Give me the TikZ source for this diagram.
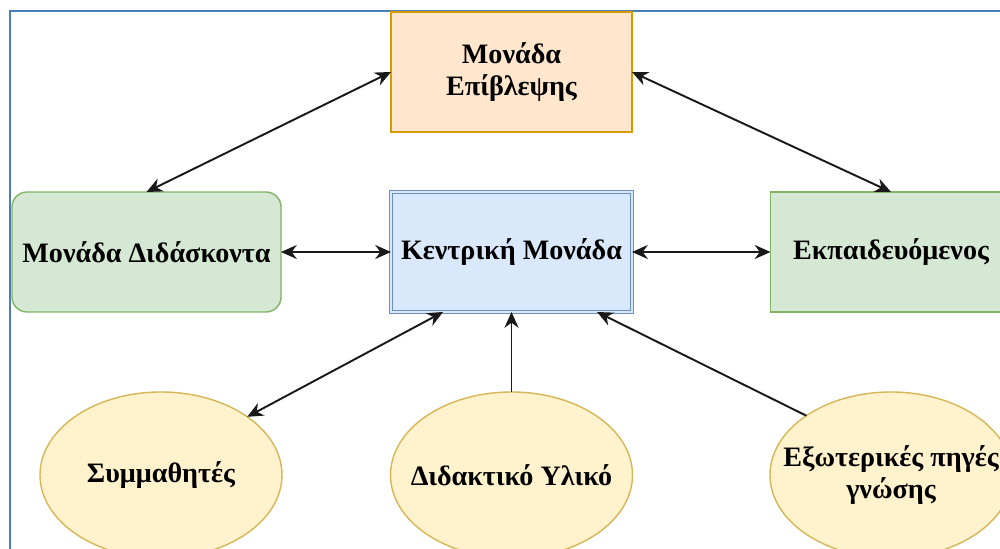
\documentclass[tikz,border=0pt]{standalone}
\usepackage{fontspec}
\setmainfont{Liberation Serif}
\usepackage{tikz}
\usetikzlibrary{arrows.meta,positioning,shapes.geometric,calc}
\usepackage{xcolor}

\definecolor{orangefill}{HTML}{FFE6CC}
\definecolor{orangeline}{HTML}{D79B00}
\definecolor{greenfill}{HTML}{D5E8D4}
\definecolor{greenline}{HTML}{82B366}
\definecolor{bluefill}{HTML}{DAE8FC}
\definecolor{blueline}{HTML}{6C8EBF}
\definecolor{yellowfill}{HTML}{FFF2CC}
\definecolor{yellowline}{HTML}{D6B656}
\definecolor{framecol}{HTML}{4A7EBB}

\tikzset{
    unitbox/.style={draw, line width=0.8pt, align=center, inner sep=0pt, outer sep=0pt,
        minimum width=4.82cm, minimum height=2.4cm,
        font=\fontsize{16}{18}\selectfont\bfseries},
    sourceell/.style={ellipse, draw=yellowline, fill=yellowfill, line width=0.8pt,
        inner sep=0pt, outer sep=0pt, minimum width=4.84cm, minimum height=3.32cm},
    sourcetext/.style={align=center, inner sep=0pt, font=\fontsize{16}{18}\selectfont\bfseries},
    link/.style={line width=1.1pt, black!90, {Stealth[length=9pt,width=8pt]}-{Stealth[length=9pt,width=8pt]}},
    feed/.style={line width=1.1pt, black!90, -{Stealth[length=9pt,width=8pt]}}
}

\begin{document}
\begin{tikzpicture}
        \useasboundingbox (0,0) rectangle (20,10.98);
        % Πλαίσιο εικόνας
        \draw[framecol, line width=1.2pt] (0.2,-1) -- (0.2,10.76) -- (21,10.76);
        % Μονάδα Επίβλεψης (πάνω)
        \node[unitbox, draw=orangeline, fill=orangefill] (supervision) at (10.23,9.54) {Μονάδα\\Επίβλεψης};
        % Κεντρική Μονάδα (διπλό περίγραμμα)
        \node[unitbox, draw=blueline, fill=bluefill, line width=0.6pt, double=bluefill, double distance=1.6pt] (central) at (10.23,5.94) {Κεντρική Μονάδα};
        % Μονάδα Διδάσκοντα (αριστερά)
        \node[unitbox, draw=greenline, fill=greenfill, rounded corners=0.3cm, minimum width=5.38cm] (teacher) at (2.93,5.94) {Μονάδα Διδάσκοντα};
        % Εκπαιδευόμενος (δεξιά)
        \node[unitbox, draw=greenline, fill=greenfill] (learner) at (17.82,5.94) {Εκπαιδευόμενος};
        % Πηγές (κάτω)
        \node[sourceell] (peers) at (3.22,1.48) {};
        \node[sourcetext] (peerslabel) at (peers) {Συμμαθητές};
        \node[sourceell] (material) at (10.23,1.48) {};
        \node[sourcetext] (materiallabel) at (material) {Διδακτικό Υλικό};
        \node[sourceell] (sources) at (17.82,1.48) {};
        \node[sourcetext] (sourceslabel) at (sources) {Εξωτερικές πηγές\\γνώσης};
        % Συνδέσεις
        \draw[link] (supervision.west) -- (teacher.north);
        \draw[link] (supervision.east) -- (learner.north);
        \draw[link] (teacher.east) -- (central.west);
        \draw[link] (central.east) -- (learner.west);
        \draw[link] ($(central.south west)!0.216!(central.south east)$) -- (peers.34);
        \draw[feed] (material.north) -- (central.south);
        \draw[feed] (sources.145) -- ($(central.south west)!0.855!(central.south east)$);
    \end{tikzpicture}
\end{document}
